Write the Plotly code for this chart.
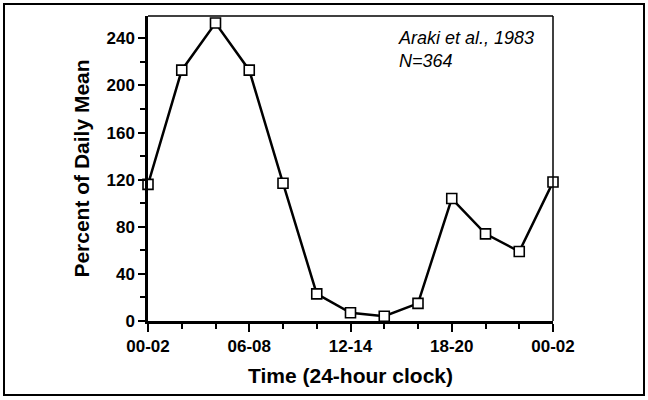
import plotly.graph_objects as go

# ---- data ----
time_labels = ["00-02", "02-04", "04-06", "06-08", "08-10", "10-12", "12-14",
               "14-16", "16-18", "18-20", "20-22", "22-24", "00-02"]
percent_of_mean = [116, 213, 253, 213, 117, 23, 7, 4, 15, 104, 74, 59, 118]
major_tick_labels = ["00-02", "06-08", "12-14", "18-20", "00-02"]
y_ticks = [0, 40, 80, 120, 160, 200, 240]

x_idx = list(range(len(time_labels)))
major_tick_pos = [0, 3, 6, 9, 12]

W, H = 648, 400
L, R, T, B = 148, 553, 16, 321  # plot area in pixels
pw, ph = R - L, B - T


def px_x(x):
    return (x - L) / pw


def px_y(y):
    return (B - y) / ph


fig = go.Figure()
fig.add_trace(go.Scatter(
    x=x_idx, y=percent_of_mean, mode="lines+markers",
    line=dict(color="black", width=2.5),
    marker=dict(symbol="square", size=10, color="white",
                line=dict(color="black", width=1.6)),
    cliponaxis=False, showlegend=False,
))

tick_font = dict(family="Liberation Sans, Arial, sans-serif", size=17,
                 color="black", weight="bold")
title_font = dict(family="Liberation Sans, Arial, sans-serif",
                  size=21, color="black", weight="bold")

fig.update_layout(
    width=W, height=H,
    margin=dict(l=L, r=W - R, t=T, b=H - B, pad=0),
    paper_bgcolor="white", plot_bgcolor="white",
    font=tick_font,
    xaxis=dict(
        range=[0, 12], tickmode="array", tickvals=major_tick_pos,
        ticktext=major_tick_labels, ticks="outside", ticklen=8, tickwidth=2,
        tickcolor="black", showline=True, linecolor="black", linewidth=2.5,
        showgrid=False, zeroline=False, tickfont=tick_font,
        minor=dict(tickmode="array", tickvals=x_idx, ticks="outside",
                   ticklen=5, tickwidth=1.5, tickcolor="black", showgrid=False),
        title=dict(text="Time (24-hour clock)", font=title_font, standoff=14),
        fixedrange=True,
    ),
    yaxis=dict(
        range=[0, 259], tickmode="array", tickvals=y_ticks,
        ticks="outside", ticklen=7, tickwidth=2, tickcolor="black",
        showline=True, linecolor="black", linewidth=2.5,
        showgrid=False, zeroline=False, tickfont=tick_font,
        minor=dict(dtick=20, ticks="outside", ticklen=5, tickwidth=1.5,
                   tickcolor="black", showgrid=False),
        title=dict(text="Percent of Daily Mean", font=title_font, standoff=12),
        fixedrange=True,
    ),
    shapes=[
        # thin top and right edges of the plot box
        dict(type="line", xref="paper", yref="paper", x0=0, x1=1, y0=1, y1=1,
             line=dict(color="black", width=1.5)),
        dict(type="line", xref="paper", yref="paper", x0=1, x1=1, y0=0, y1=1,
             line=dict(color="black", width=1.5)),
        # outer frame
        dict(type="rect", xref="paper", yref="paper",
             x0=px_x(4), x1=px_x(644), y0=px_y(395), y1=px_y(4),
             line=dict(color="black", width=2)),
    ],
    annotations=[
        dict(text="<i>Araki et al., 1983<br>N=364</i>", xref="paper", yref="paper",
             x=px_x(396), y=px_y(26), xanchor="left", yanchor="top", align="left",
             showarrow=False,
             font=dict(family="Liberation Sans, Arial, sans-serif", size=18,
                       color="black", weight="normal")),
    ],
)

fig.write_html("out.html",
               config={"displayModeBar": False},
               post_script="document.body.style.margin='0';"
                           "document.body.style.overflow='hidden';")
